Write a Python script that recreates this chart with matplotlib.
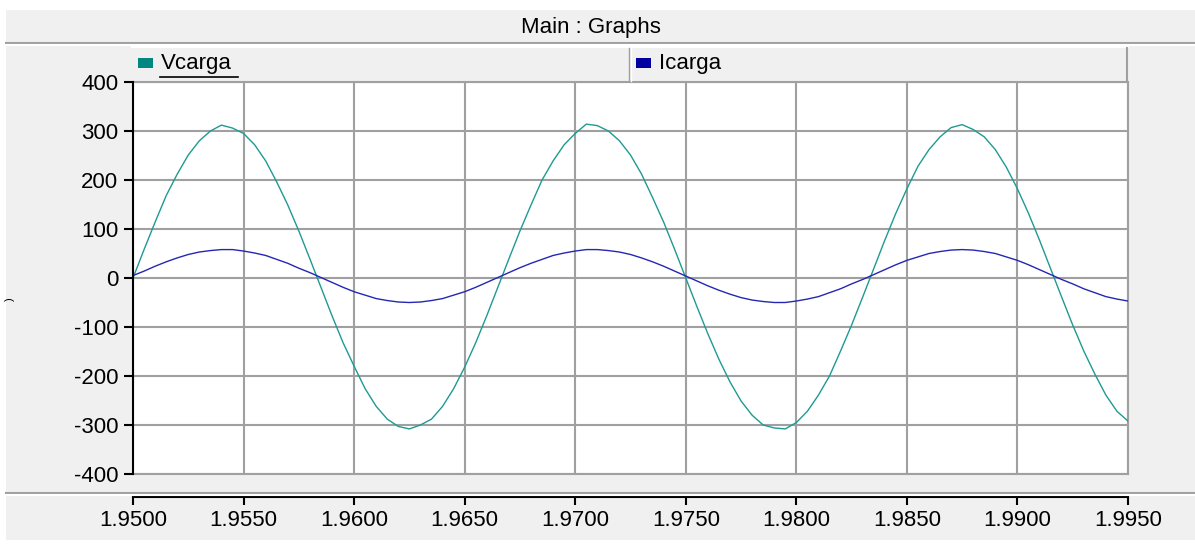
import numpy as np
import matplotlib
matplotlib.use("Agg")
import matplotlib.pyplot as plt
from matplotlib.patches import Rectangle
from matplotlib.lines import Line2D

plt.rcParams['font.family'] = ['Liberation Sans', 'DejaVu Sans']

# sample times (s), 0.5 ms apart
t = np.linspace(1.95, 1.995, 91)

# load voltage
vcarga = [0, 58, 114, 168, 212, 251, 280, 300, 312, 306,
          295, 272, 239, 196, 149, 96, 39, -19, -77, -132,
          -180, -226, -262, -288, -303, -308, -300, -288, -262, -226,
          -182, -132, -77, -19, 39, 96, 149, 200, 239, 272,
          295, 314, 311, 300, 280, 251, 212, 164, 114, 58,
          0, -58, -114, -166, -212, -251, -280, -300, -306, -308,
          -295, -272, -239, -200, -149, -96, -39, 19, 77, 132,
          182, 228, 262, 288, 307, 313, 303, 288, 262, 226,
          182, 132, 77, 19, -39, -96, -149, -196, -239, -272,
          -292]

# load current
icarga = [5, 14, 24, 33, 41, 48, 53, 56, 58, 58,
          55, 51, 46, 38, 30, 20, 11, 1, -9, -19,
          -28, -35, -42, -46, -49, -50, -49, -46, -42, -35,
          -28, -19, -9, 1, 11, 21, 30, 38, 46, 51,
          55, 58, 58, 56, 53, 48, 41, 33, 24, 14,
          4, -6, -16, -25, -33, -40, -45, -48, -50, -50,
          -47, -43, -38, -30, -22, -12, -3, 7, 17, 27,
          36, 43, 50, 54, 57, 58, 57, 54, 50, 43,
          36, 27, 17, 7, -3, -12, -22, -30, -38, -43,
          -47]

series_names = ['Vcarga', 'Icarga']
line_colors = ['#1E9A92', '#2626B4']
box_colors = ['#00877F', '#0000A0']
x_ticks = [1.950, 1.955, 1.960, 1.965, 1.970, 1.975, 1.980, 1.985, 1.990, 1.995]
y_ticks = [-400, -300, -200, -100, 0, 100, 200, 300, 400]

W, H = 1195, 547
BG = '#F0F0F0'
GRID = '#A0A0A0'


def fx(x):
    return x / W


def fy(y):
    return 1 - y / H


fig = plt.figure(figsize=(W / 100, H / 100), dpi=100, facecolor='white')

# panel background, title bar and separators
fig.patches.append(Rectangle((fx(6), fy(540)), fx(1195 - 6), (540 - 10) / H,
                             transform=fig.transFigure, facecolor=BG, edgecolor='none', zorder=-10))
for y, c in [(43, GRID), (45, 'white'), (493, GRID), (495, 'white')]:
    fig.lines.append(Line2D([fx(6), 1], [fy(y), fy(y)], transform=fig.transFigure,
                            color=c, lw=1.5, zorder=1))
fig.text(fx(591), fy(27), 'Main : Graphs', ha='center', va='center', fontsize=16)

# legend strip
fig.lines.append(Line2D([fx(132), fx(1128)], [fy(47), fy(47)], transform=fig.transFigure,
                        color='white', lw=1.5, zorder=1))
fig.lines.append(Line2D([fx(629), fx(629)], [fy(48), fy(81)], transform=fig.transFigure,
                        color=GRID, lw=1.0, zorder=1))
fig.lines.append(Line2D([fx(631), fx(631)], [fy(48), fy(81)], transform=fig.transFigure,
                        color='white', lw=1.0, zorder=1))
fig.lines.append(Line2D([fx(1127), fx(1127)], [fy(48), fy(82)], transform=fig.transFigure,
                        color=GRID, lw=1.5, zorder=1))
for name, bc, x0 in zip(series_names, box_colors, [138, 636]):
    fig.patches.append(Rectangle((fx(x0), fy(68)), fx(15), 10 / H, transform=fig.transFigure,
                                 facecolor=bc, edgecolor='none', zorder=2))
    fig.text(fx(x0 + 23), fy(64), name, ha='left', va='center', fontsize=16)
fig.lines.append(Line2D([fx(160), fx(238)], [fy(77), fy(77)], transform=fig.transFigure,
                        color='black', lw=1.2, zorder=2))

# main plot
ax = fig.add_axes([fx(133), fy(474), fx(995), 392 / H])
ax.set_facecolor('white')
for v, n, c in zip([vcarga, icarga], series_names, line_colors):
    ax.plot(t, v, color=c, lw=1.0, label=n, zorder=3)
ax.set_xlim(1.95, 1.995)
ax.set_ylim(-400, 400)
ax.set_xticks(x_ticks)
ax.set_yticks(y_ticks)
ax.set_yticklabels([str(v) for v in y_ticks], fontsize=16)
ax.tick_params(axis='x', length=0, labelbottom=False)
ax.tick_params(axis='y', direction='out', length=6.5, width=1.5, color='black', pad=4)
ax.grid(True, color=GRID, lw=1.5, zorder=1)
for s in ['top', 'right', 'bottom']:
    ax.spines[s].set_color(GRID)
    ax.spines[s].set_linewidth(1.5)
ax.spines['left'].set_color('black')
ax.spines['left'].set_linewidth(1.5)
ax.spines['left'].set_zorder(4)

# stray y label glyph at the far left
fig.text(fx(10), fy(299), ')', rotation=90, ha='center', va='center', fontsize=8)

# separate x axis strip below the plot
axx = fig.add_axes([fx(133), fy(497), fx(995), 0.0001])
axx.set_facecolor('none')
for s in ['top', 'right', 'left']:
    axx.spines[s].set_visible(False)
axx.spines['bottom'].set_linewidth(1.5)
axx.set_xlim(1.95, 1.995)
axx.set_yticks([])
axx.set_xticks(x_ticks)
axx.set_xticklabels(['%.4f' % v for v in x_ticks], fontsize=16)
axx.tick_params(axis='x', direction='out', length=6, width=1.5, pad=3)

fig.savefig('out.png', dpi=100, facecolor='white')
